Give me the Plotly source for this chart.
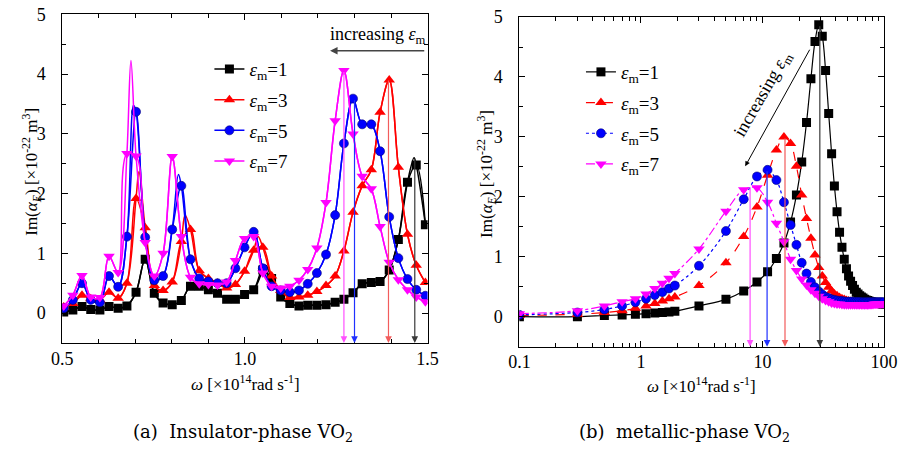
import plotly.graph_objects as go
import math

W, H = 913, 451
FONT = "Liberation Serif, 'Times New Roman', 'DejaVu Serif', serif"
CAPTION_FONT = "'DejaVu Serif', serif"

# ---------------- panel (a): insulator-phase VO2 ----------------
omega_a = [0.504, 0.529, 0.554, 0.578, 0.603, 0.628, 0.653, 0.677, 0.702, 0.727,
           0.752, 0.776, 0.801, 0.826, 0.851, 0.875, 0.900, 0.925, 0.950, 0.974,
           0.999, 1.024, 1.049, 1.073, 1.098, 1.123, 1.148, 1.172, 1.197, 1.222,
           1.247, 1.271, 1.296, 1.321, 1.346, 1.370, 1.395, 1.420, 1.445, 1.469,
           1.494]
im_a_eps1 = [0.02, 0.05, 0.11, 0.06, 0.05, 0.11, 0.08, 0.12, 0.35, 0.90,
             0.33, 0.17, 0.14, 0.21, 0.45, 0.45, 0.39, 0.33, 0.23, 0.23,
             0.31, 0.39, 0.72, 0.58, 0.27, 0.16, 0.12, 0.13, 0.13, 0.14,
             0.18, 0.23, 0.34, 0.49, 0.51, 0.53, 0.72, 1.23, 2.19, 2.48,
             1.48]
im_a_eps3 = [0.10, 0.16, 0.30, 0.24, 0.22, 0.35, 0.25, 0.50, 1.92, 1.43,
             0.46, 0.38, 0.52, 1.20, 1.40, 0.71, 0.58, 0.50, 0.42, 0.48,
             0.70, 1.05, 1.10, 0.62, 0.38, 0.26, 0.27, 0.30, 0.36, 0.46,
             0.62, 1.04, 1.69, 2.13, 2.40, 3.36, 3.90, 2.44, 1.32, 0.80,
             0.51]
im_a_eps5 = [0.08, 0.22, 0.50, 0.22, 0.18, 0.62, 0.44, 1.28, 3.37, 1.27,
             0.55, 0.62, 1.40, 2.13, 0.90, 0.58, 0.53, 0.50, 0.50, 0.75,
             1.10, 1.36, 0.75, 0.45, 0.38, 0.35, 0.38, 0.49, 0.67, 0.98,
             1.64, 2.84, 3.59, 3.16, 3.16, 2.71, 1.61, 0.92, 0.57, 0.39,
             0.29]
im_a_eps7 = [0.12, 0.30, 0.63, 0.27, 0.26, 0.95, 0.68, 2.67, 2.63, 1.18,
             0.62, 1.00, 2.62, 1.28, 0.60, 0.49, 0.48, 0.47, 0.52, 0.88,
             1.25, 1.28, 0.67, 0.45, 0.42, 0.45, 0.55, 0.73, 1.09, 1.85,
             3.22, 4.06, 3.00, 2.29, 2.08, 1.45, 0.85, 0.56, 0.39, 0.27,
             0.19]
# resonance maxima falling between sampled frequencies (curve only)
peak_a_x = {1: [1.057, 1.463], 3: [0.710, 0.836, 1.036], 5: [0.695, 0.818], 7: [0.688]}
peak_a_y = {1: [0.80, 2.60], 3: [2.37, 1.64, 1.28], 5: [3.48, 2.32], 7: [4.23]}
# main resonance positions marked with arrows
res_a_x = [1.465, 1.393, 1.300, 1.271]
res_a_top = [2.60, 3.92, 3.59, 4.06]

# ---------------- panel (b): metallic-phase VO2 ----------------
omega_b = [0.1, 0.3, 0.5, 0.7, 0.9, 1.1, 1.3, 1.5, 1.7, 1.9,
           3, 5, 7, 9, 11, 13, 15, 17, 19, 21, 23, 25, 27, 29, 31, 33, 35, 37, 39,
           41, 43, 45, 47, 49, 51, 53, 55, 57, 59, 61, 63, 65, 67, 69, 71, 73, 75,
           77, 79, 81, 83, 85, 87, 89, 91, 93, 95, 97, 99]
im_b_eps1 = [0.00, 0.00, 0.02, 0.03, 0.04, 0.05, 0.06, 0.07, 0.08, 0.09,
             0.18, 0.29, 0.43, 0.58, 0.75, 0.97, 1.23, 1.58, 2.03, 2.58, 3.24, 3.97,
             4.59, 4.87, 4.68, 4.11, 3.39, 2.72, 2.18, 1.75, 1.41, 1.16, 0.96, 0.80,
             0.68, 0.59, 0.52, 0.46, 0.41, 0.38, 0.35, 0.33, 0.31, 0.29, 0.28, 0.27,
             0.26, 0.25, 0.245, 0.24, 0.235, 0.23, 0.23, 0.225, 0.22, 0.22, 0.215,
             0.21, 0.21]
im_b_eps3 = [0.02, 0.04, 0.07, 0.10, 0.14, 0.18, 0.22, 0.26, 0.30, 0.33,
             0.52, 0.90, 1.34, 1.83, 2.36, 2.78, 3.00, 2.89, 2.51, 2.03, 1.64, 1.31,
             1.03, 0.82, 0.68, 0.57, 0.49, 0.43, 0.38, 0.35, 0.32, 0.30, 0.285, 0.27,
             0.26, 0.255, 0.25, 0.245, 0.24, 0.235, 0.23, 0.23, 0.225, 0.225, 0.22,
             0.22, 0.22, 0.22, 0.22, 0.22, 0.22, 0.22, 0.22, 0.22, 0.22, 0.22, 0.22,
             0.22, 0.22]
im_b_eps5 = [0.03, 0.07, 0.12, 0.18, 0.24, 0.30, 0.36, 0.41, 0.47, 0.52,
             0.85, 1.43, 1.96, 2.34, 2.45, 2.28, 1.91, 1.53, 1.20, 0.90, 0.72, 0.58,
             0.49, 0.42, 0.37, 0.33, 0.31, 0.29, 0.28, 0.27, 0.26, 0.26, 0.255, 0.25,
             0.25, 0.25, 0.25, 0.245, 0.245, 0.245, 0.245, 0.24, 0.24, 0.24, 0.24,
             0.24, 0.24, 0.24, 0.24, 0.24, 0.24, 0.24, 0.24, 0.24, 0.24, 0.24, 0.24,
             0.24, 0.24]
im_b_eps7 = [0.05, 0.10, 0.18, 0.25, 0.30, 0.38, 0.47, 0.56, 0.64, 0.72,
             1.13, 1.76, 2.12, 2.15, 1.91, 1.56, 1.25, 0.96, 0.77, 0.63, 0.53, 0.45,
             0.39, 0.34, 0.30, 0.27, 0.25, 0.23, 0.22, 0.21, 0.21, 0.205, 0.20, 0.20,
             0.20, 0.20, 0.20, 0.20, 0.20, 0.20, 0.20, 0.20, 0.20, 0.20, 0.20, 0.20,
             0.20, 0.205, 0.205, 0.205, 0.21, 0.21, 0.21, 0.21, 0.215, 0.215, 0.22,
             0.22, 0.22]
res_b_x = [29.6, 15.3, 10.9, 7.9]
res_b_top = [4.87, 3.00, 2.45, 2.18]

eps_values = [1, 3, 5, 7]
colors = {1: "#000000", 3: "#ff0000", 5: "#0000ff", 7: "#ff00ff"}
arrow_colors = {1: "#3a3a3a", 3: "#f25c5c", 5: "#2030ff", 7: "#ff50ff"}
symbols = {1: "square", 3: "triangle-up", 5: "circle", 7: "triangle-down"}
dashes_b = {1: "solid", 3: "dash", 5: "dot", 7: "dashdot"}
series_a = {1: im_a_eps1, 3: im_a_eps3, 5: im_a_eps5, 7: im_a_eps7}
series_b = {1: im_b_eps1, 3: im_b_eps3, 5: im_b_eps5, 7: im_b_eps7}


def px_x(p):
    return p / W


def px_y(p):
    return 1 - p / H


def label(e):
    return f"<i>ε</i><sub>m</sub>={e}"


def marker(e):
    m = dict(symbol=symbols[e], size=9 if e in (1, 5) else 10, color=colors[e])
    if e == 5:
        m["line"] = dict(color="#00007a", width=0.6)
    else:
        m["line"] = dict(width=0)
    return m


def text_note(x, y, text, size, angle=0, family=FONT):
    return dict(x=px_x(x), y=px_y(y), xref="paper", yref="paper", showarrow=False,
                xanchor="center", yanchor="middle", textangle=angle, text=text,
                font=dict(family=family, size=size, color="black"))


fig = go.Figure()

for e in eps_values:
    ys = series_a[e]
    pts = sorted(list(zip(omega_a, ys)) + list(zip(peak_a_x[e], peak_a_y[e])))
    lx, ly = zip(*pts)
    fig.add_trace(go.Scatter(x=lx, y=ly, mode="lines", line=dict(color=colors[e], width=1.5, shape="spline"),
                             xaxis="x", yaxis="y", showlegend=False, hoverinfo="skip"))
    fig.add_trace(go.Scatter(x=omega_a, y=ys, mode="markers+lines", marker=marker(e),
                             line=dict(color=colors[e], width=1.5, shape="spline"),
                             xaxis="x", yaxis="y", name=label(e), legend="legend",
                             legendgroup=f"a{e}"))

for e in eps_values:
    fig.add_trace(go.Scatter(x=omega_b, y=series_b[e], mode="markers+lines", marker=marker(e),
                             line=dict(color=colors[e], width=1.2, dash=dashes_b[e], shape="spline"),
                             xaxis="x2", yaxis="y2", name=label(e), legend="legend2",
                             legendgroup=f"b{e}"))

annotations = []
# resonance arrows, panel (a)
for e, xr, top in zip(eps_values, res_a_x, res_a_top):
    annotations.append(dict(x=xr, y=-0.5, ax=xr, ay=top, xref="x", yref="y", axref="x", ayref="y",
                            text="", showarrow=True, arrowhead=2, arrowsize=1.1, arrowwidth=1.2,
                            arrowcolor=arrow_colors[e], standoff=0))
# resonance arrows, panel (b)
for e, xr, top in zip(eps_values, res_b_x, res_b_top):
    annotations.append(dict(x=math.log10(xr), y=-0.5, ax=math.log10(xr), ay=top,
                            xref="x2", yref="y2", axref="x2", ayref="y2",
                            text="", showarrow=True, arrowhead=2, arrowsize=1.1, arrowwidth=1.2,
                            arrowcolor=arrow_colors[e], standoff=0))

# "increasing eps_m" indicators
annotations.append(dict(x=1.233, y=4.39, ax=1.495, ay=4.39, xref="x", yref="y", axref="x", ayref="y",
                        text="", showarrow=True, arrowhead=2, arrowsize=1, arrowwidth=1.5,
                        arrowcolor="#444444", standoff=0))
annotations.append(text_note(377, 26, "increasing <i>ε</i><sub>m</sub>", 18))
annotations.append(dict(x=math.log10(7.2), y=2.51, ax=math.log10(24.8), ay=4.48,
                        xref="x2", yref="y2", axref="x2", ayref="y2",
                        text="", showarrow=True, arrowhead=2, arrowsize=1, arrowwidth=1,
                        arrowcolor="#000000", standoff=0))
annotations.append(text_note(773, 86, "increasing <i>ε</i><sub>m</sub>", 18, angle=-60))

# axis titles
ytitle = "Im(<i>α</i><sub><i>E</i></sub>) [×10<sup>-22</sup> m<sup>3</sup>]"
xtitle = "<i>ω</i> [×10<sup>14</sup>rad s<sup>-1</sup>]"
annotations.append(text_note(21, 165, ytitle, 17, angle=-90))
annotations.append(text_note(489, 168, ytitle, 17, angle=-90))
annotations.append(text_note(241, 381, xtitle, 17))
annotations.append(text_note(710, 383, xtitle, 17))
# captions
annotations.append(text_note(239, 433, "(a)  Insulator-phase VO<sub>2</sub>", 18, family=CAPTION_FONT))
annotations.append(text_note(692, 433, "(b)  metallic-phase VO<sub>2</sub>", 18, family=CAPTION_FONT))

axis_common = dict(showline=True, linecolor="black", linewidth=1, mirror="allticks", ticks="inside",
                   ticklen=6, tickwidth=1, tickcolor="black", showgrid=False, zeroline=False,
                   ticklabeloverflow="allow",
                   tickfont=dict(family=FONT, size=18, color="black"))

minor_log = [m * 10 ** d for d in (-1, 0, 1) for m in range(2, 10)]

fig.update_layout(
    width=W, height=H, margin=dict(l=0, r=0, t=0, b=0),
    paper_bgcolor="white", plot_bgcolor="white",
    font=dict(family=FONT, color="black"),
    xaxis=dict(domain=[px_x(52.7), px_x(428.3)], range=[0.5, 1.5], tick0=0.5, dtick=0.5, tickformat=".1f",
               anchor="y", minor=dict(dtick=0.1, ticks="inside", ticklen=4, tickcolor="black"),
               ticklabelstandoff=-1, **axis_common),
    yaxis=dict(domain=[px_y(340.5), px_y(4.5)], range=[-0.5, 5.0001], tick0=0, dtick=1, anchor="x",
               minor=dict(dtick=0.5, ticks="inside", ticklen=4, tickcolor="black"),
               ticklabelstandoff=12, **axis_common),
    xaxis2=dict(domain=[px_x(522.7), px_x(897.7)], type="log", range=[-1, 2],
                tickvals=[0.1, 1, 10, 100], ticktext=["0.1", "1", "10", "100"], anchor="y2",
                minor=dict(tickvals=minor_log, ticks="inside", ticklen=4, tickcolor="black"),
                ticklabelstandoff=-1, **axis_common),
    yaxis2=dict(domain=[px_y(344.3), px_y(7.2)], range=[-0.5, 5.0001], tick0=0, dtick=1, anchor="x2",
                minor=dict(dtick=0.5, ticks="inside", ticklen=4, tickcolor="black"),
                ticklabelstandoff=12, **axis_common),
    legend=dict(x=px_x(204), y=px_y(41), xanchor="left", yanchor="top", bgcolor="rgba(0,0,0,0)",
                font=dict(family=FONT, size=19, color="black"), tracegroupgap=3, traceorder="grouped",
                itemwidth=30),
    legend2=dict(x=px_x(586), y=px_y(44), xanchor="left", yanchor="top", bgcolor="rgba(0,0,0,0)",
                 font=dict(family=FONT, size=19, color="black"), tracegroupgap=3, traceorder="grouped",
                 itemwidth=30),
    annotations=annotations,
)

fig.write_html("out.html")
